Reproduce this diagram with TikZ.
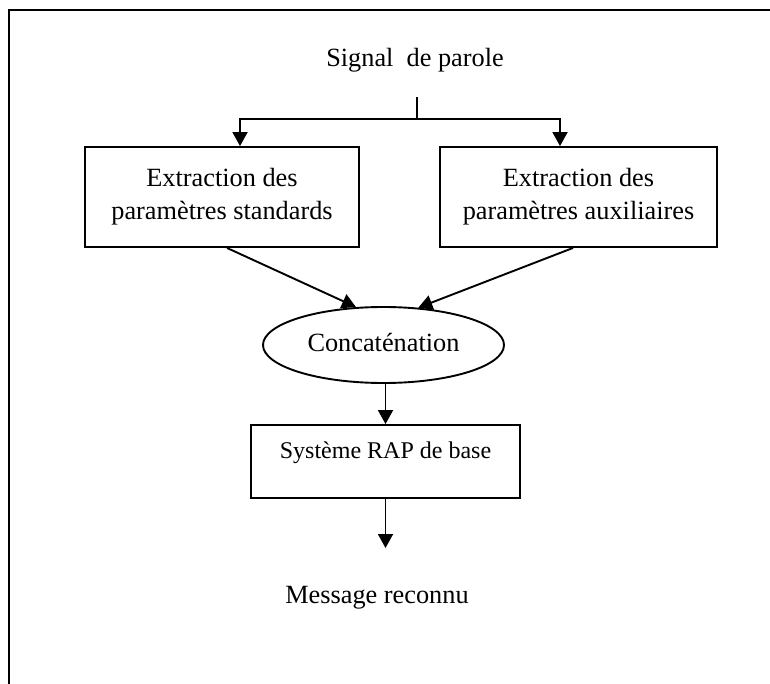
\documentclass[tikz,border=0pt]{standalone}
\usepackage{fontspec}
\setmainfont{Liberation Serif}
\usetikzlibrary{arrows.meta,shapes.geometric}
\begin{document}
\begin{tikzpicture}[x=1pt,y=-1pt,
  wire/.style={line width=1.9pt},
  arr/.style={line width=1.9pt, -{Triangle[width=15pt,length=14pt]}},
  box/.style={draw, line width=1.9pt, rectangle, inner sep=0pt, align=center,
    font=\fontsize{26.3}{33}\selectfont},
  lbl/.style={font=\fontsize{26.3}{33}\selectfont, inner sep=0pt, anchor=base},
  frame/.style={line width=2.2pt}]
  \useasboundingbox (0,0) rectangle (770,684);

  % page frame (top and left edges)
  \draw[frame] (9,684) -- (9,10) -- (770,10);

  % nodes
  \node[lbl] (S) at (415,67) {Signal\ \ de parole};
  \node[box, minimum width=274pt, minimum height=100pt] (L) at (222,197)
    {Extraction des\\paramètres standards};
  \node[box, minimum width=277pt, minimum height=100pt] (A) at (578.5,197)
    {Extraction des\\paramètres auxiliaires};
  \node[draw, ellipse, line width=1.9pt, minimum width=241pt, minimum height=76pt,
    inner sep=0pt, font=\fontsize{26.3}{33}\selectfont,
    text height=18pt, text depth=6pt] (C) at (383.5,345) {Concaténation};
  \node[box, minimum width=269pt, minimum height=73pt,
    font=\fontsize{24}{29}\selectfont, text height=17pt, text depth=24pt]
    (R) at (385.5,461.5) {Système RAP de base};
  \node[lbl] (M) at (377,603) {Message reconnu};

  % connectors
  \coordinate (top) at (417,97);
  \coordinate (split) at (417,119);
  \coordinate (out) at (385.5,548);
  \draw[wire] (top) -- (split);
  \draw[arr] (split) -| ([xshift=18pt]L.north);
  \draw[arr] (split) -| ([xshift=-18.5pt]A.north);
  \draw[arr] ([xshift=5pt]L.south) -- (C.126);
  \draw[arr] ([xshift=-5.5pt]A.south) -- (C.47);
  \draw[arr] (R.north |- C.south) -- (R.north);
  \draw[arr] (R.south) -- (out);
\end{tikzpicture}
\end{document}
